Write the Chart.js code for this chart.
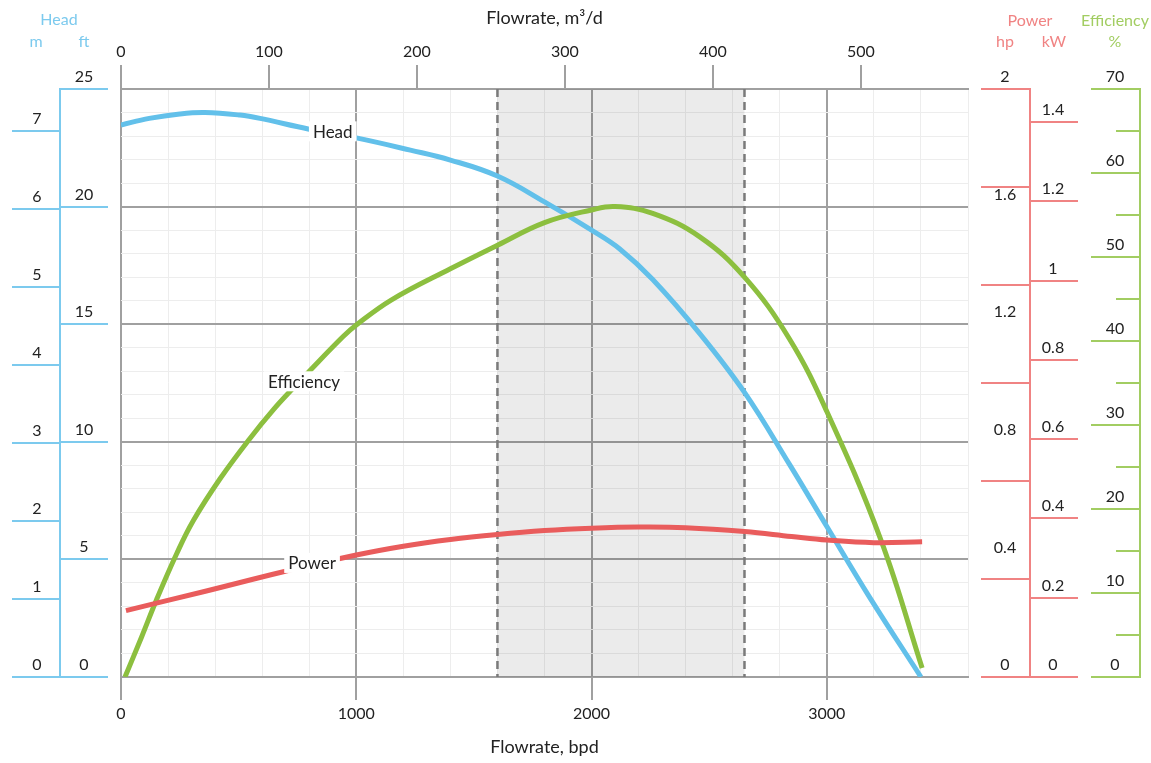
<!DOCTYPE html>
<html><head><meta charset="utf-8">
<script src="https://cdn.jsdelivr.net/npm/chart.js@4/dist/chart.umd.min.js"></script>
<style>html,body{margin:0;padding:0;background:#fff}#wrap{width:1151px;height:763px;position:relative}</style>
</head><body><div id="wrap"><canvas id="c"></canvas></div>
<script>
// ---- data ----
const headBpd = [0, 120, 250, 357, 506, 591, 800, 1000, 1230, 1400, 1600, 1800, 2000, 2120, 2260, 2460, 2650, 2840, 3000, 3180, 3400];
const headFt  = [23.47, 23.75, 23.94, 24.0, 23.89, 23.75, 23.29, 22.92, 22.4, 21.98, 21.3, 20.2, 19.0, 18.2, 16.9, 14.6, 12.1, 9.06, 6.4, 3.42, 0];

const effBpd = [17, 88, 151, 237, 307, 421, 548, 647, 732, 790, 943, 1000, 1150, 1400, 1600, 1800, 2000, 2100, 2260, 2460, 2650, 2840, 3000, 3230, 3405];
const effPct = [0, 4.8, 9.2, 14.7, 18.6, 23.6, 28.4, 31.8, 34.4, 36.1, 40.5, 41.9, 44.9, 48.6, 51.4, 54.1, 55.6, 56.0, 55.2, 52.4, 47.6, 40.3, 31.6, 16.3, 1.07];

const powerBpd = [21, 350, 690, 1000, 1200, 1400, 1600, 1800, 2000, 2200, 2400, 2650, 2850, 3000, 3200, 3405];
const powerHp  = [0.226, 0.29, 0.358, 0.415, 0.445, 0.468, 0.485, 0.498, 0.506, 0.51, 0.508, 0.495, 0.478, 0.466, 0.457, 0.46];

const recommendedRange = [1600, 2650];

// ticks / grid values
const bpdGrid   = [0,200,400,600,800,1000,1200,1400,1600,1800,2000,2200,2400,2600,2800,3000,3200,3400,3600];
const bpdLabels = [0, 1000, 2000, 3000];
const m3dTicks  = [0, 100, 200, 300, 400, 500];
const ftGrid    = [0,1,2,3,4,5,6,7,8,9,10,11,12,13,14,15,16,17,18,19,20,21,22,23,24,25];
const ftTicks   = [0, 5, 10, 15, 20, 25];
const mTicks    = [0, 1, 2, 3, 4, 5, 6, 7];
const hpLines   = [0, 0.333, 0.667, 1, 1.333, 1.667, 2];
const hpLabels  = [0, 0.4, 0.8, 1.2, 1.6, 2];
const kwTicks   = [0, 0.2, 0.4, 0.6, 0.8, 1, 1.2, 1.4];
const effMajor  = [0, 10, 20, 30, 40, 50, 60, 70];
const effMinor  = [5, 15, 25, 35, 45, 55, 65];

const curveLabelText = ['Head', 'Efficiency', 'Power'];
const curveLabelBpd  = [900, 778, 812];
const curveLabelVal  = [23.2, 35.2, 0.388];
const curveLabelAxis = ['yFt', 'yEff', 'yHp'];

// ---- styles ----
const FONT = 'Lato, "Open Sans", sans-serif';
const TXT = '#222';
const MAJOR = '#a0a0a0';
const MINOR = '#ededed';
const C_HEAD = '#62c0ea', C_EFF = '#8cbf3f', C_POW = '#e95c5c';
const A_HEAD = '#7ccaee', A_POW = '#f08383', A_EFF = '#a2cd62';

Chart.defaults.font.family = FONT;

const pts = (xs, ys) => xs.map((x, i) => ({x, y: ys[i]}));

const shadePlugin = {
  id: 'shade',
  beforeDatasetsDraw(chart) {
    const {ctx, chartArea: a, scales: {x}} = chart;
    const x0 = x.getPixelForValue(recommendedRange[0]);
    const x1 = x.getPixelForValue(recommendedRange[1]);
    ctx.save();
    ctx.fillStyle = 'rgba(0,0,0,0.08)';
    ctx.fillRect(x0, a.top, x1 - x0, a.bottom - a.top);
    ctx.strokeStyle = '#7a7a7a';
    ctx.lineWidth = 2.5;
    ctx.setLineDash([8, 5]);
    [x0, x1].forEach(px => {
      ctx.beginPath(); ctx.moveTo(px, a.top); ctx.lineTo(px, a.bottom); ctx.stroke();
    });
    ctx.restore();
  }
};

const labelPlugin = {
  id: 'curveLabels',
  afterDatasetsDraw(chart) {
    const {ctx, scales} = chart;
    ctx.save();
    ctx.font = '17px ' + FONT;
    ctx.textAlign = 'center';
    ctx.textBaseline = 'middle';
    curveLabelText.forEach((t, i) => {
      const px = scales.x.getPixelForValue(curveLabelBpd[i]);
      const py = scales[curveLabelAxis[i]].getPixelForValue(curveLabelVal[i]);
      const w = ctx.measureText(t).width;
      ctx.fillStyle = '#fff';
      ctx.fillRect(px - w / 2 - 4, py - 10, w + 8, 20);
      ctx.fillStyle = TXT;
      ctx.fillText(t, px, py + 1);
    });
    ctx.restore();
  }
};

const sideAxesPlugin = {
  id: 'sideAxes',
  afterDraw(chart) {
    const {ctx, scales} = chart;
    const s = scales;
    ctx.save();
    ctx.lineWidth = 2;
    ctx.textAlign = 'center';
    ctx.textBaseline = 'middle';
    const line = (x0, y0, x1, y1, c) => { ctx.strokeStyle = c; ctx.beginPath(); ctx.moveTo(x0, y0); ctx.lineTo(x1, y1); ctx.stroke(); };
    const txt = (t, x, y, c) => { ctx.fillStyle = c; ctx.fillText(t, x, y); };
    const r = v => Math.round(v);
    ctx.font = '16px ' + FONT;

    // Head axes (m, ft)
    line(60, r(s.yFt.getPixelForValue(0)) + 1, 60, r(s.yFt.getPixelForValue(25)) - 1, A_HEAD);
    mTicks.forEach(v => { const y = r(s.yM.getPixelForValue(v)); line(12, y, 60, y, A_HEAD); txt(String(v), 37, y - 12, TXT); });
    ftTicks.forEach(v => { const y = r(s.yFt.getPixelForValue(v)); line(60, y, 108, y, A_HEAD); txt(String(v), 84, y - 12, TXT); });

    // Power axes (hp, kW)
    line(1030, r(s.yHp.getPixelForValue(0)) + 1, 1030, r(s.yHp.getPixelForValue(2)) - 1, A_POW);
    hpLines.forEach(v => { const y = r(s.yHp.getPixelForValue(v)); line(981, y, 1030, y, A_POW); });
    hpLabels.forEach(v => { const y = s.yHp.getPixelForValue(v); txt(String(v), 1005, y - 12, TXT); });
    kwTicks.forEach(v => { const y = r(s.yKw.getPixelForValue(v)); line(1030, y, 1078, y, A_POW); txt(String(v), 1053, y - 12, TXT); });

    // Efficiency axis
    line(1140, r(s.yEff.getPixelForValue(0)) + 1, 1140, r(s.yEff.getPixelForValue(70)) - 1, A_EFF);
    effMajor.forEach(v => { const y = r(s.yEff.getPixelForValue(v)); line(1091, y, 1140, y, A_EFF); txt(String(v), 1115, y - 12, TXT); });
    effMinor.forEach(v => { const y = r(s.yEff.getPixelForValue(v)); line(1116, y, 1140, y, A_EFF); });

    // Headers
    txt('Head', 59, 20, A_HEAD); txt('m', 36, 42, A_HEAD); txt('ft', 84, 42, A_HEAD);
    txt('Power', 1030, 21, A_POW); txt('hp', 1005, 42, A_POW); txt('kW', 1054, 42, A_POW);
    txt('Efficiency', 1115, 21, A_EFF); txt('%', 1115, 42, A_EFF);
    ctx.restore();
  }
};

const isMajorBpd = v => bpdLabels.includes(v);
const isMajorFt = v => ftTicks.includes(v);

new Chart(document.getElementById('c'), {
  type: 'line',
  data: {
    datasets: [
      { label: 'Power', data: pts(powerBpd, powerHp), xAxisID: 'x', yAxisID: 'yHp',
        borderColor: C_POW, borderWidth: 5, pointRadius: 0, fill: false, tension: 0.4, borderCapStyle: 'butt' },
      { label: 'Efficiency', data: pts(effBpd, effPct), xAxisID: 'x', yAxisID: 'yEff',
        borderColor: C_EFF, borderWidth: 5, pointRadius: 0, fill: false, tension: 0.4, borderCapStyle: 'butt' },
      { label: 'Head', data: pts(headBpd, headFt), xAxisID: 'x', yAxisID: 'yFt',
        borderColor: C_HEAD, borderWidth: 5, pointRadius: 0, fill: false, tension: 0.4, borderCapStyle: 'butt' }
    ]
  },
  options: {
    responsive: true,
    maintainAspectRatio: false,
    animation: false,
    devicePixelRatio: 1,
    layout: { padding: { left: 121, right: 183, top: 0, bottom: 0 } },
    plugins: { legend: { display: false }, tooltip: { enabled: false } },
    scales: {
      x: {
        type: 'linear', position: 'bottom', min: 0, max: 3600,
        afterFit: s => { s.height = 86; },
        afterBuildTicks: s => { s.ticks = bpdGrid.map(v => ({value: v})); },
        ticks: { autoSkip: false, maxRotation: 0, padding: 4, color: TXT, font: { size: 16 },
                 callback: v => isMajorBpd(v) ? String(v) : '' },
        grid: { color: c => isMajorBpd(c.tick && c.tick.value) ? MAJOR : MINOR,
                lineWidth: c => isMajorBpd(c.tick && c.tick.value) ? 2 : 1,
                tickLength: 23,
                tickColor: c => isMajorBpd(c.tick && c.tick.value) ? MAJOR : 'rgba(0,0,0,0)' },
        border: { color: MAJOR, width: 2 },
        title: { display: true, text: 'Flowrate, bpd', color: TXT, font: { size: 18 }, padding: { top: 0, bottom: 5 } }
      },
      xTop: {
        type: 'linear', position: 'top', min: 0, max: 572.36,
        afterFit: s => { s.height = 89; },
        afterBuildTicks: s => { s.ticks = m3dTicks.map(v => ({value: v})); },
        ticks: { autoSkip: false, maxRotation: 0, padding: 4, color: TXT, font: { size: 16 } },
        grid: { drawOnChartArea: false, tickLength: 24, color: MAJOR, lineWidth: 2 },
        border: { color: MAJOR, width: 2 },
        title: { display: true, text: 'Flowrate, m³/d', color: TXT, font: { size: 18 }, padding: { top: 7, bottom: 0 } }
      },
      yFt: {
        type: 'linear', position: 'left', min: 0, max: 25,
        afterFit: s => { s.width = 0; },
        afterBuildTicks: s => { s.ticks = ftGrid.map(v => ({value: v})); },
        ticks: { display: false },
        grid: { color: c => isMajorFt(c.tick && c.tick.value) ? MAJOR : MINOR,
                lineWidth: c => isMajorFt(c.tick && c.tick.value) ? 2 : 1,
                drawTicks: false },
        border: { display: false }
      },
      yM:   { type: 'linear', display: false, min: 0, max: 7.54 },
      yHp:  { type: 'linear', display: false, min: 0, max: 2 },
      yKw:  { type: 'linear', display: false, min: 0, max: 1.483 },
      yEff: { type: 'linear', display: false, min: 0, max: 70 }
    }
  },
  plugins: [shadePlugin, labelPlugin, sideAxesPlugin]
});
</script>
</body></html>
